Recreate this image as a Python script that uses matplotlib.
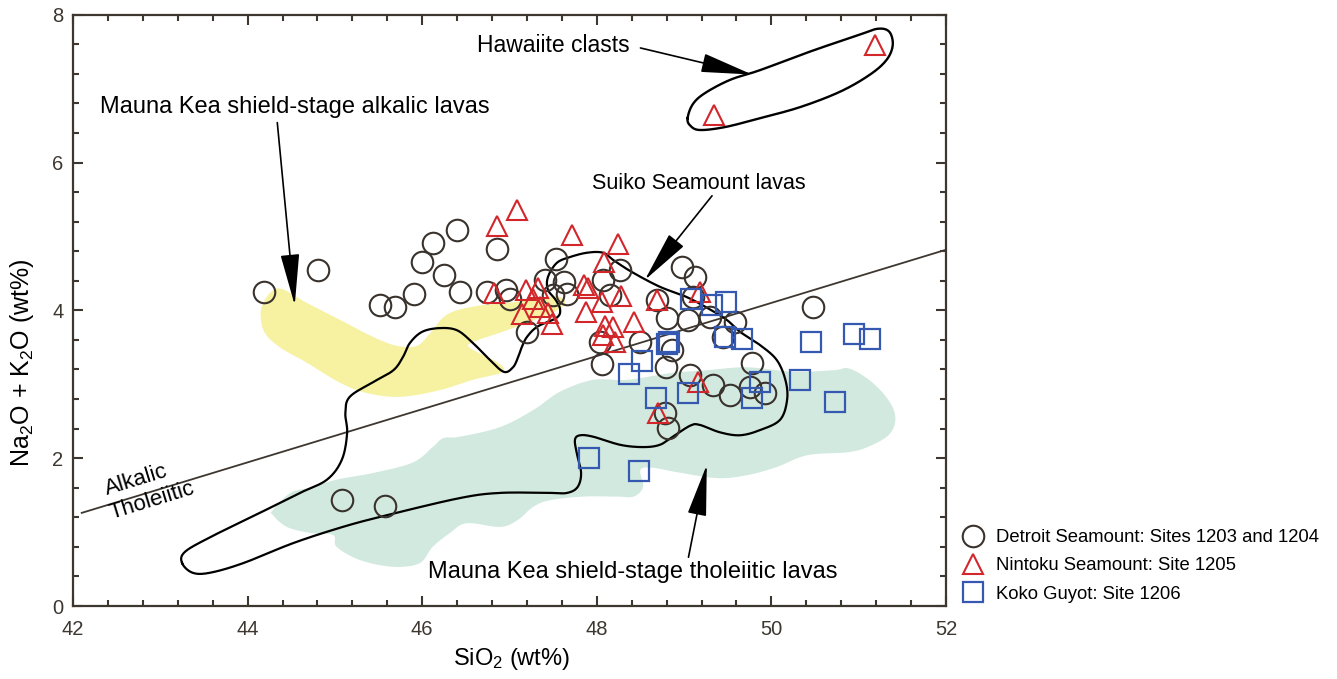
import numpy as np
import matplotlib
matplotlib.use("Agg")
import matplotlib.pyplot as plt
from matplotlib.lines import Line2D

plt.rcParams['font.family'] = ['Liberation Sans', 'DejaVu Sans']
plt.rcParams['mathtext.fontset'] = 'custom'
plt.rcParams['mathtext.rm'] = 'Liberation Sans'
plt.rcParams['mathtext.it'] = 'Liberation Sans'
plt.rcParams['mathtext.bf'] = 'Liberation Sans'

# ---------------- data ----------------
# Detroit Seamount (Sites 1203, 1204)
detroit_sio2 = [44.19, 44.81, 45.08, 45.57, 45.52, 45.69, 45.91, 46.12, 46.40, 46.00,
                46.25, 46.43, 46.86, 46.74, 46.96, 47.01, 47.53, 47.41, 47.62, 47.50,
                47.66, 47.20, 48.07, 48.27, 48.15, 48.04, 48.06, 48.49, 48.69, 48.98,
                49.12, 49.10, 48.80, 49.04, 49.30, 49.58, 49.45, 48.86, 48.79, 49.07,
                49.33, 49.53, 49.75, 49.93, 49.78, 50.48, 48.78, 48.82]
detroit_alk = [4.25, 4.55, 1.43, 1.35, 4.07, 4.05, 4.22, 4.91, 5.09, 4.65,
               4.48, 4.25, 4.83, 4.25, 4.28, 4.15, 4.70, 4.41, 4.38, 4.21,
               4.22, 3.71, 4.41, 4.55, 4.21, 3.57, 3.27, 3.57, 4.14, 4.59,
               4.45, 4.18, 3.90, 3.87, 3.91, 3.84, 3.64, 3.46, 3.23, 3.13,
               2.99, 2.86, 2.96, 2.88, 3.29, 4.05, 2.61, 2.41]

# Nintoku Seamount (Site 1205)
nintoku_sio2 = [47.09, 46.86, 47.72, 48.24, 48.08, 46.82, 47.19, 47.33, 47.27, 47.35,
                47.14, 47.44, 47.49, 47.85, 47.90, 48.06, 48.28, 47.88, 48.09, 48.19,
                48.07, 48.21, 48.43, 48.69, 49.18, 49.16, 48.70, 49.34, 51.19]
nintoku_alk = [5.36, 5.14, 5.02, 4.90, 4.65, 4.24, 4.28, 4.30, 4.15, 4.05,
               3.95, 3.96, 3.82, 4.34, 4.30, 4.11, 4.19, 3.98, 3.79, 3.78,
               3.67, 3.57, 3.84, 4.14, 4.25, 3.03, 2.61, 6.64, 7.59]

# Koko Guyot (Site 1206)
koko_sio2 = [49.08, 49.32, 49.48, 48.83, 48.80, 49.47, 49.66, 48.52, 48.37, 48.68,
             49.04, 49.87, 49.78, 50.45, 50.33, 50.73, 50.95, 51.13, 47.91, 48.48]
koko_alk = [4.15, 4.07, 4.11, 3.57, 3.54, 3.64, 3.61, 3.32, 3.14, 2.81,
            2.88, 3.03, 2.81, 3.57, 3.06, 2.76, 3.68, 3.61, 2.00, 1.83]

# Alkalic / tholeiitic dividing line
divide_sio2 = [42.1, 52.0]
divide_alk = [1.26, 4.82]

# Field outlines (SiO2, Na2O+K2O)
hawaiite_sio2 = [49.04, 49.10, 49.24, 49.53, 49.87, 50.44, 51.01, 51.22, 51.35, 51.39,
                 51.32, 51.13, 50.79, 50.33, 49.87, 49.47, 49.18, 49.07]
hawaiite_alk = [6.60, 6.79, 6.94, 7.12, 7.25, 7.50, 7.73, 7.81, 7.77, 7.59,
                7.39, 7.19, 6.96, 6.75, 6.60, 6.48, 6.44, 6.50]

suiko_sio2 = [43.25, 43.28, 43.57, 44.14, 44.60, 44.91, 45.08, 45.14, 45.12, 45.17,
              45.44, 45.67, 45.78, 45.86, 46.00, 46.20, 46.40, 46.58, 46.74, 46.93,
              47.04, 47.10, 47.14, 47.20, 47.32, 47.54, 47.58, 47.53, 47.44, 47.44,
              47.54, 47.69, 47.89, 48.07, 48.19, 48.40, 48.72, 49.03, 49.30, 49.49,
              49.64, 49.87, 50.06, 50.16, 50.18, 50.10, 49.87, 49.64, 49.41, 49.18,
              49.07, 48.87, 48.72, 48.53, 48.27, 47.96, 47.81, 47.75, 47.77, 47.82,
              47.78, 47.66, 47.46, 46.89, 46.43, 45.60, 45.09, 44.52, 43.95, 43.57,
              43.37]
suiko_alk = [0.58, 0.73, 0.93, 1.26, 1.53, 1.71, 1.98, 2.34, 2.61, 2.83,
             3.03, 3.19, 3.37, 3.56, 3.71, 3.76, 3.73, 3.56, 3.37, 3.17,
             3.23, 3.37, 3.50, 3.64, 3.78, 3.90, 4.01, 4.14, 4.28, 4.45,
             4.64, 4.72, 4.78, 4.78, 4.68, 4.52, 4.32, 4.18, 4.01, 3.87,
             3.71, 3.53, 3.33, 3.06, 2.79, 2.52, 2.38, 2.31, 2.35, 2.45,
             2.44, 2.29, 2.18, 2.15, 2.18, 2.29, 2.31, 2.25, 2.07, 1.80,
             1.61, 1.53, 1.53, 1.53, 1.46, 1.23, 1.07, 0.85, 0.58, 0.45,
             0.45]

alkalic_sio2 = [44.15, 44.17, 44.26, 44.39, 44.68, 45.06, 45.44, 45.71, 45.94, 46.09,
                46.28, 46.58, 46.97, 47.24, 47.54, 47.64, 47.56, 47.35, 46.97, 46.58,
                46.55, 46.81, 46.93, 46.89, 46.58, 46.20, 45.75, 45.37, 45.06, 44.68,
                44.37, 44.20]
alkalic_alk = [3.91, 4.07, 4.24, 4.29, 4.10, 3.87, 3.64, 3.52, 3.52, 3.69,
               3.94, 4.05, 4.10, 4.14, 4.19, 4.11, 4.01, 3.90, 3.73, 3.57,
               3.49, 3.33, 3.23, 3.15, 3.06, 2.92, 2.83, 2.88, 3.02, 3.29,
               3.50, 3.69]

thol_sio2 = [44.29, 44.49, 44.71, 45.02, 45.44, 45.89, 46.12, 46.24, 46.43, 46.89,
             47.27, 47.58, 47.96, 48.35, 48.84, 49.26, 49.72, 50.25, 50.71, 50.90,
             51.16, 51.36, 51.42, 51.34, 51.10, 50.87, 50.41, 50.06, 49.72, 49.38,
             48.92, 48.64, 48.50, 48.53, 48.42, 48.23, 47.84, 47.46, 47.27, 47.09,
             46.89, 46.51, 46.32, 46.12, 45.97, 45.67, 45.29, 45.02, 44.98, 44.71,
             44.45, 44.29]
thol_alk = [1.30, 1.53, 1.60, 1.71, 1.80, 1.94, 2.15, 2.27, 2.29, 2.42,
            2.65, 2.90, 3.06, 3.06, 3.15, 3.19, 3.23, 3.17, 3.19, 3.21,
            3.02, 2.75, 2.52, 2.31, 2.15, 2.08, 2.04, 1.88, 1.77, 1.73,
            1.81, 1.87, 1.84, 1.61, 1.48, 1.48, 1.48, 1.43, 1.34, 1.16,
            1.07, 1.12, 0.99, 0.80, 0.58, 0.53, 0.62, 0.80, 0.96, 0.99,
            1.07, 1.23]

legend_labels = ["Detroit Seamount: Sites 1203 and 1204",
                 "Nintoku Seamount: Site 1205",
                 "Koko Guyot: Site 1206"]


def smooth_closed(xs, ys, n=16):
    p = np.column_stack([xs, ys]).astype(float)
    N = len(p)
    out = []
    t = np.linspace(0, 1, n, endpoint=False)[:, None]
    for i in range(N):
        p0, p1, p2, p3 = p[i - 1], p[i], p[(i + 1) % N], p[(i + 2) % N]
        seg = 0.5 * (2 * p1 + (-p0 + p2) * t + (2 * p0 - 5 * p1 + 4 * p2 - p3) * t ** 2
                     + (-p0 + 3 * p1 - 3 * p2 + p3) * t ** 3)
        out.append(seg)
    out = np.vstack(out)
    out = np.vstack([out, out[:1]])
    return out[:, 0], out[:, 1]


# ---------------- figure ----------------
W, H = 1337, 679
fig = plt.figure(figsize=(W / 100, H / 100), dpi=100)
ax = fig.add_axes([73 / W, (H - 606) / H, (946 - 73) / W, (606 - 14.7) / H])

spine_c = '#3d3730'
yellow = '#f6f2a2'
green = '#d2e9df'
c_det = '#3a332d'
c_nin = '#d3262b'
c_koko = '#3558b0'

# fields
gx, gy = smooth_closed(thol_sio2, thol_alk)
ax.fill(gx, gy, color=green, lw=0, zorder=1)
yx, yy = smooth_closed(alkalic_sio2, alkalic_alk)
ax.fill(yx, yy, color=yellow, lw=0, zorder=1)

# dividing line
ax.plot(divide_sio2, divide_alk, color=spine_c, lw=1.3, zorder=2)

# outlines
sx, sy = smooth_closed(suiko_sio2, suiko_alk)
ax.plot(sx, sy, color='black', lw=1.6, zorder=3)
hx, hy = smooth_closed(hawaiite_sio2, hawaiite_alk)
ax.plot(hx, hy, color='black', lw=1.7, zorder=3)

# data points
ax.plot(detroit_sio2, detroit_alk, ls='none', marker='o', ms=15.5, mfc='none',
        mec=c_det, mew=1.5, zorder=5, label=legend_labels[0])
ax.plot(nintoku_sio2, nintoku_alk, ls='none', marker='^', ms=14, mfc='none',
        mec=c_nin, mew=1.5, zorder=6, label=legend_labels[1])
ax.plot(koko_sio2, koko_alk, ls='none', marker='s', ms=15, mfc='none',
        mec=c_koko, mew=1.6, zorder=6, label=legend_labels[2])

ax.set_xlim(42, 52)
ax.set_ylim(0, 8)
ax.set_xticks([42, 44, 46, 48, 50, 52])
ax.set_yticks([0, 2, 4, 6, 8])
ax.set_xticks(np.arange(42, 52.01, 0.4), minor=True)
ax.set_yticks(np.arange(0, 8.01, 0.4), minor=True)
ax.tick_params(which='both', direction='in', top=True, right=True, color=spine_c,
               width=1.5, labelcolor=spine_c, labelsize=14.5)
ax.tick_params(which='major', length=7)
ax.tick_params(which='minor', length=4.5)
ax.tick_params(axis='x', which='major', pad=10)
ax.tick_params(axis='y', which='major', pad=7)
for s in ax.spines.values():
    s.set_color(spine_c)
    s.set_linewidth(1.6)

ax.set_xlabel(r'SiO$_2$ (wt%)', fontsize=17, color='black', va='center')
ax.xaxis.set_label_coords((512 - 73) / 873, -(659 - 606) / 591.3)
ax.set_ylabel(r'Na$_2$O + K$_2$O (wt%)', fontsize=18, color='black', va='center')
ax.yaxis.set_label_coords(-(73 - 22) / 873, (606 - 363) / 591.3)

# alkalic / tholeiitic labels
ax.text(42.72, 1.70, 'Alkalic', fontsize=16, rotation=17, ha='center', va='center',
        rotation_mode='anchor')
ax.text(42.91, 1.42, 'Tholeiitic', fontsize=16, rotation=17, ha='center', va='center',
        rotation_mode='anchor')

# annotations
arrow = dict(arrowstyle='-|>,head_length=1.8,head_width=0.33', color='black', lw=1.2,
             shrinkA=0, shrinkB=0, mutation_scale=18)
ax.text(46.63, 7.59, 'Hawaiite clasts', fontsize=16.5, ha='left', va='center')
ax.annotate('', xy=(49.78, 7.19), xytext=(48.50, 7.55), arrowprops=arrow, zorder=4)

ax.text(42.31, 6.75, 'Mauna Kea shield-stage alkalic lavas', fontsize=17, ha='left',
        va='center')
ax.annotate('', xy=(44.54, 4.07), xytext=(44.34, 6.54), arrowprops=arrow, zorder=4)

ax.text(47.95, 5.72, 'Suiko Seamount lavas', fontsize=15.5, ha='left', va='center')
ax.annotate('', xy=(48.55, 4.41), xytext=(49.32, 5.55), arrowprops=arrow, zorder=4)

ax.text(46.07, 0.46, 'Mauna Kea shield-stage tholeiitic lavas', fontsize=17, ha='left',
        va='center')
ax.annotate('', xy=(49.26, 1.91), xytext=(49.05, 0.66), arrowprops=arrow, zorder=4)

# legend
handles = [Line2D([], [], ls='none', marker='o', ms=15.5, mfc='none', mec=c_det, mew=1.5),
           Line2D([], [], ls='none', marker='^', ms=14, mfc='none', mec=c_nin, mew=1.5),
           Line2D([], [], ls='none', marker='s', ms=15, mfc='none', mec=c_koko, mew=1.6)]
leg = ax.legend(handles, legend_labels, loc='upper left',
                bbox_to_anchor=(964 / W, (H - 529) / H), bbox_transform=fig.transFigure,
                frameon=False, fontsize=13.3, handlelength=1.0, handletextpad=0.72,
                labelspacing=0.62, borderpad=0, borderaxespad=0)

fig.savefig('out.png', dpi=100)
